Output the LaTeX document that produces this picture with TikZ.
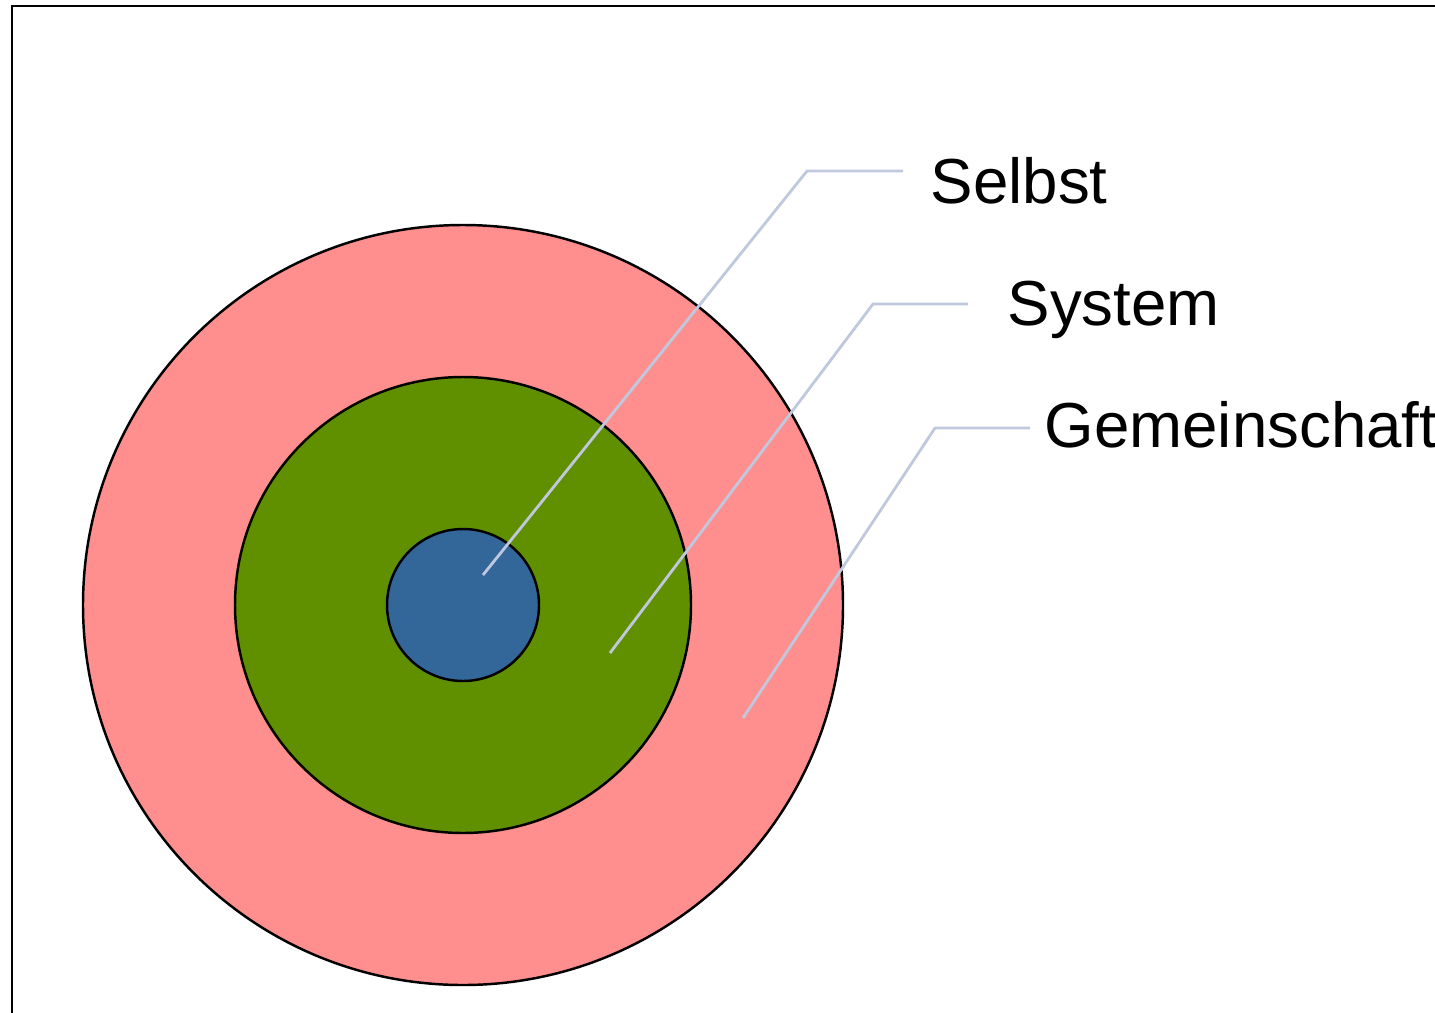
\documentclass[tikz,border=0pt]{standalone}
\usepackage{fontspec}
\setmainfont{Liberation Sans}
\usetikzlibrary{positioning}

\definecolor{outerfill}{RGB}{255,143,143}
\definecolor{middlefill}{RGB}{96,144,0}
\definecolor{innerfill}{RGB}{51,102,153}
\definecolor{leadercol}{RGB}{192,200,222}

\begin{document}
\begin{tikzpicture}[
        ring/.style={circle, draw=black, line width=0.7pt, inner sep=0pt},
        leader/.style={draw=leadercol, line width=0.8pt},
        tag/.style={anchor=base west, inner sep=0pt, font=\fontsize{18.1}{20}\selectfont}
    ]
        \useasboundingbox (0,0) rectangle (14.35,10.12);
        \clip (0,0) rectangle (14.35,10.12);

        % frame, open to the right and bottom
        \draw[line width=0.7pt] (0.12,-0.5) -- (0.12,10.06) -- (14.8,10.06);

        % rings
        \node[ring, fill=outerfill, minimum size=7.6cm] (gemeinschaft) at (4.63,4.07) {};
        \node[ring, fill=middlefill, minimum size=4.56cm] (system) at (gemeinschaft.center) {};
        \node[ring, fill=innerfill, minimum size=1.52cm] (selbst) at (gemeinschaft.center) {};

        % leader points
        \coordinate (selbst-in) at (4.83,4.37);
        \coordinate (selbst-knee) at (8.07,8.41);
        \coordinate (selbst-end) at (9.03,8.41);
        \coordinate (system-in) at (6.10,3.59);
        \coordinate (system-knee) at (8.73,7.08);
        \coordinate (system-end) at (9.68,7.08);
        \coordinate (gemeinschaft-in) at (7.43,2.94);
        \coordinate (gemeinschaft-knee) at (9.35,5.84);
        \coordinate (gemeinschaft-end) at (10.30,5.84);

        \draw[leader] (selbst-in) -- (selbst-knee) -- (selbst-end);
        \draw[leader] (system-in) -- (system-knee) -- (system-end);
        \draw[leader] (gemeinschaft-in) -- (gemeinschaft-knee) -- (gemeinschaft-end);

        % labels
        \node[tag] (selbst-label) at (9.30,8.09) {Selbst};
        \node[tag] (system-label) at (10.07,6.87) {System};
        \node[tag] (gemeinschaft-label) at (10.44,5.65) {Gemeinschaft};
    \end{tikzpicture}
\end{document}
